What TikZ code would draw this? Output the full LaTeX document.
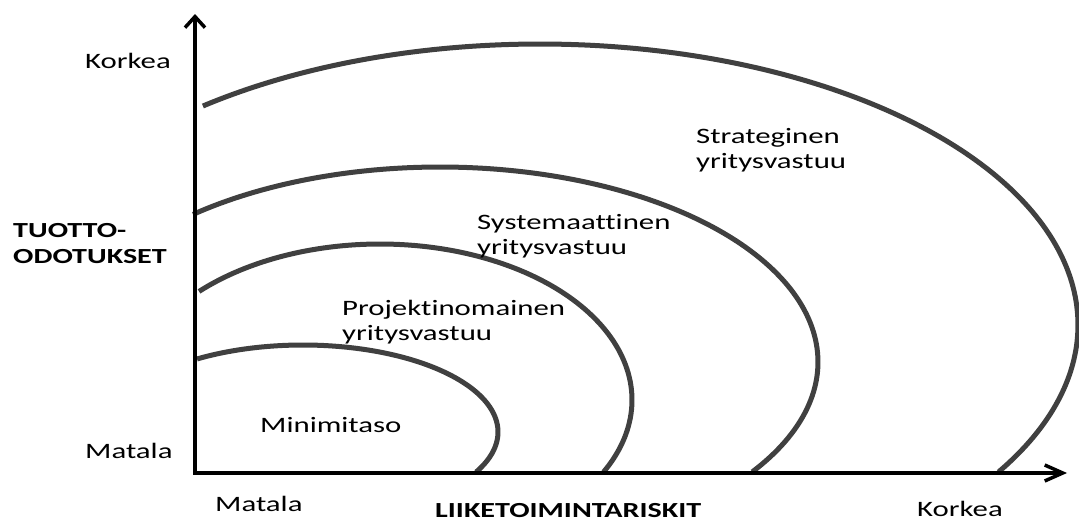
\documentclass[tikz,border=0pt]{standalone}
\usepackage{fontspec}
\setmainfont{Carlito}[FakeStretch=1.4,Ligatures=NoCommon]
\usetikzlibrary{arrows.meta}
\definecolor{ringgray}{HTML}{404040}
\begin{document}
\begin{tikzpicture}[x=1pt,y=-1pt,
  axis/.style={line width=3.5pt,black,line join=miter},
  ring/.style={line width=5pt,ringgray},
  lbl/.style={inner sep=0pt,anchor=base west,align=left,
    font=\fontsize{22}{25}\selectfont},
  boldlbl/.style={lbl,font=\fontsize{21.5}{26}\selectfont\bfseries}]
% canvas
\fill[white] (0,0) rectangle (1079,522);
\useasboundingbox (0,0) rectangle (1079,522);

% nested responsibility levels (elliptic arcs)
\draw[ring] plot[domain=237.1:387.4,samples=90]
  ({303+195*cos(\x)},{432+87*sin(\x)});
\draw[ring] plot[domain=224.1:387.5,samples=110]
  ({380+252*cos(\x)},{400+156*sin(\x)});
\draw[ring] plot[domain=229.2:394.3,samples=130]
  ({440+378*cos(\x)},{362+195*sin(\x)});
\draw[ring] plot[domain=231.2:391.55,samples=160]
  ({540+538*cos(\x)},{325+281*sin(\x)});

% axes
\coordinate (origin) at (195,473);
\coordinate (ytip) at (195,14);
\coordinate (xtip) at (1067,473);
\draw[axis,{Straight Barb[length=11pt,width=20pt]}-{Straight Barb[length=18pt,width=16pt]}]
  (ytip) -- (origin) -- (xtip);

% axis labels (multi-line nodes are anchored at their last baseline)
\node[lbl] (ykorkea) at (85,68) {Korkea};
\node[boldlbl] (ytitle) at (13,263) {TUOTTO-\\ODOTUKSET};
\node[lbl] (ymatala) at (85,458) {Matala};
\node[lbl] (xmatala) at (215,511) {Matala};
\node[boldlbl] (xtitle) at (435,517) {LIIKETOIMINTARISKIT};
\node[lbl] (xkorkea) at (917,516) {Korkea};

% level labels
\node[lbl] (lvl1) at (260,432) {Minimitaso};
\node[lbl] (lvl2) at (342,340) {Projektinomainen\\yritysvastuu};
\node[lbl] (lvl3) at (477,254) {Systemaattinen\\yritysvastuu};
\node[lbl] (lvl4) at (696,168) {Strateginen\\yritysvastuu};
\end{tikzpicture}
\end{document}
